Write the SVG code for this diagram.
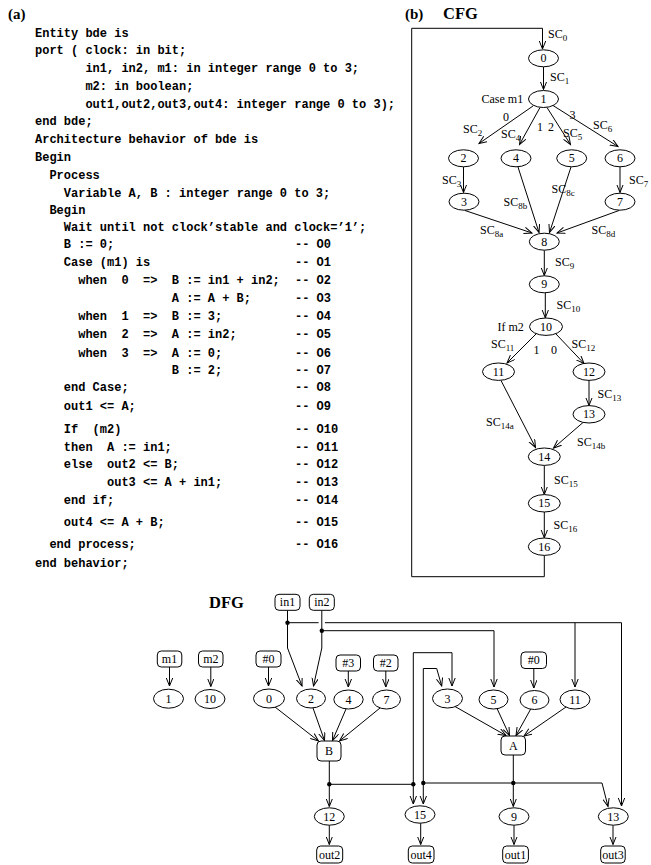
<svg xmlns="http://www.w3.org/2000/svg" width="651" height="865" viewBox="0 0 651 865">
<defs>
<style>
.code{font-family:"Liberation Mono","DejaVu Sans Mono",monospace;font-weight:bold;font-size:12px;fill:#000;white-space:pre}
.ttl{font-family:"Liberation Serif","Times New Roman",serif;font-weight:bold;fill:#000}
.lbl{font-family:"Liberation Serif","Times New Roman",serif;font-size:12px;fill:#000}
.nt{font-family:"Liberation Serif","Times New Roman",serif;font-size:12px;fill:#000;text-anchor:middle}
.sub{font-size:9px}
.nd{fill:#fff;stroke:#000;stroke-width:1}
.ed{fill:none;stroke:#000;stroke-width:1}
.ar{marker-end:url(#arr)}
.dot{fill:#000}
</style>
<marker id="arr" markerUnits="userSpaceOnUse" markerWidth="10" markerHeight="8" refX="8" refY="3.5" orient="auto">
<path d="M0,0.3 L8,3.5 L0,6.7" fill="none" stroke="#000" stroke-width="1"/>
</marker>
</defs>
<rect width="651" height="865" fill="#fff"/>

<g id="code" xml:space="preserve">
<text class="ttl" x="8" y="19" font-size="15">(a)</text>
<text class="code" x="35" y="36.5">Entity bde is</text>
<text class="code" x="35" y="54.3">port ( clock: in bit;</text>
<text class="code" x="85.4" y="72">in1, in2, m1: in integer range 0 to 3;</text>
<text class="code" x="85.4" y="89.8">m2: in boolean;</text>
<text class="code" x="85.4" y="107.6">out1,out2,out3,out4: integer range 0 to 3);</text>
<text class="code" x="35" y="125.4">end bde;</text>
<text class="code" x="35" y="143.2">Architecture behavior of bde is</text>
<text class="code" x="35" y="161">Begin</text>
<text class="code" x="49.4" y="178.8">Process</text>
<text class="code" x="63.8" y="196.5">Variable A, B : integer range 0 to 3;</text>
<text class="code" x="49.4" y="213.5">Begin</text>
<text class="code" x="63.8" y="230.7">Wait until not clock’stable and clock=’1’;</text>
<text class="code" x="63.8" y="248">B := 0;</text>
<text class="code" x="63.8" y="266">Case (m1) is</text>
<text class="code" x="78.2" y="284">when  0  =&gt;  B := in1 + in2;</text>
<text class="code" x="171.8" y="301.7">A := A + B;</text>
<text class="code" x="78.2" y="319.7">when  1  =&gt;  B := 3;</text>
<text class="code" x="78.2" y="338">when  2  =&gt;  A := in2;</text>
<text class="code" x="78.2" y="356.5">when  3  =&gt;  A := 0;</text>
<text class="code" x="171.8" y="374">B := 2;</text>
<text class="code" x="63.8" y="391.3">end Case;</text>
<text class="code" x="63.8" y="409.7">out1 &lt;= A;</text>
<text class="code" x="63.8" y="433.3">If  (m2)</text>
<text class="code" x="63.8" y="450.7">then  A := in1;</text>
<text class="code" x="63.8" y="468.3">else  out2 &lt;= B;</text>
<text class="code" x="107" y="486.3">out3 &lt;= A + in1;</text>
<text class="code" x="63.8" y="504">end if;</text>
<text class="code" x="63.8" y="525.7">out4 &lt;= A + B;</text>
<text class="code" x="49.4" y="548">end process;</text>
<text class="code" x="35" y="567.3">end behavior;</text>
<text class="code" x="295" y="248">-- O0</text>
<text class="code" x="295" y="266">-- O1</text>
<text class="code" x="295" y="284">-- O2</text>
<text class="code" x="295" y="301.7">-- O3</text>
<text class="code" x="295" y="319.7">-- O4</text>
<text class="code" x="295" y="338">-- O5</text>
<text class="code" x="295" y="356.5">-- O6</text>
<text class="code" x="295" y="374">-- O7</text>
<text class="code" x="295" y="391.3">-- O8</text>
<text class="code" x="295" y="409.7">-- O9</text>
<text class="code" x="295" y="433.3">-- O10</text>
<text class="code" x="295" y="450.7">-- O11</text>
<text class="code" x="295" y="468.3">-- O12</text>
<text class="code" x="295" y="486.3">-- O13</text>
<text class="code" x="295" y="504">-- O14</text>
<text class="code" x="295" y="525.7">-- O15</text>
<text class="code" x="295" y="548">-- O16</text>
</g>

<g id="cfg-title">
<text class="ttl" x="405" y="18.5" font-size="15">(b)</text>
<text class="ttl" x="443" y="19.3" font-size="16.5">CFG</text>
</g>

<g id="cfg-edges">
<path class="ed ar" d="M544.3,555.2 V576.7 H411.7 V28.3 H542.5 V49" stroke-width="1.3"/>
<path class="ed ar" d="M543.5,66.8 V89.5"/>
<path class="ed ar" d="M533,106 L479,143.5"/>
<path class="ed ar" d="M540,107.5 L519.5,144.5"/>
<path class="ed ar" d="M547,107.5 L570.5,144.5"/>
<path class="ed ar" d="M553,105.5 L618,146.5"/>
<path class="ed ar" d="M463.5,166.8 V192.5"/>
<path class="ed ar" d="M620,166.8 V192.5"/>
<path class="ed ar" d="M518,167 L539,232.5"/>
<path class="ed ar" d="M571,167 L549.5,232.5"/>
<path class="ed ar" d="M465,210.5 L532,233"/>
<path class="ed ar" d="M619,210.5 L557,233"/>
<path class="ed ar" d="M544.3,250.2 V275.5"/>
<path class="ed ar" d="M545.3,292.8 V317.8"/>
<path class="ed ar" d="M536,334 L507,363"/>
<path class="ed ar" d="M556,334 L584,363.5"/>
<path class="ed ar" d="M501,380.5 L535.5,447.5"/>
<path class="ed ar" d="M589,380.2 V405.5"/>
<path class="ed ar" d="M583,422.5 L553.5,448"/>
<path class="ed ar" d="M544.3,465.2 V494.5"/>
<path class="ed ar" d="M544.3,511.8 V537.8"/>
</g>

<g id="cfg-labels" class="lbl">
<text x="548" y="38">SC<tspan class="sub" dy="3">0</tspan></text>
<text x="550" y="81">SC<tspan class="sub" dy="3">1</tspan></text>
<text x="481.5" y="103.3">Case m1</text>
<text x="503" y="121">0</text>
<text x="537" y="131">1</text>
<text x="548" y="131">2</text>
<text x="569.5" y="118.5">3</text>
<text x="463" y="132.5">SC<tspan class="sub" dy="3">2</tspan></text>
<text x="501" y="138">SC<tspan class="sub" dy="3">4</tspan></text>
<text x="563" y="136.5">SC<tspan class="sub" dy="3">5</tspan></text>
<text x="593" y="128.5">SC<tspan class="sub" dy="3">6</tspan></text>
<text x="442" y="184">SC<tspan class="sub" dy="3">3</tspan></text>
<text x="629" y="184">SC<tspan class="sub" dy="3">7</tspan></text>
<text x="551.5" y="192.5">SC<tspan class="sub" dy="3">8c</tspan></text>
<text x="503.5" y="206">SC<tspan class="sub" dy="3">8b</tspan></text>
<text x="480" y="234">SC<tspan class="sub" dy="3">8a</tspan></text>
<text x="591.5" y="234">SC<tspan class="sub" dy="3">8d</tspan></text>
<text x="555" y="266">SC<tspan class="sub" dy="3">9</tspan></text>
<text x="556.5" y="309">SC<tspan class="sub" dy="3">10</tspan></text>
<text x="497.5" y="331">If m2</text>
<text x="491" y="348">SC<tspan class="sub" dy="3">11</tspan></text>
<text x="533.5" y="354">1</text>
<text x="551" y="354">0</text>
<text x="571.5" y="348">SC<tspan class="sub" dy="3">12</tspan></text>
<text x="597.5" y="397.5">SC<tspan class="sub" dy="3">13</tspan></text>
<text x="486" y="426">SC<tspan class="sub" dy="3">14a</tspan></text>
<text x="577" y="446">SC<tspan class="sub" dy="3">14b</tspan></text>
<text x="554" y="484">SC<tspan class="sub" dy="3">15</tspan></text>
<text x="553.5" y="529">SC<tspan class="sub" dy="3">16</tspan></text>
</g>

<g id="cfg-n0"><ellipse class="nd" cx="543.5" cy="58.3" rx="15" ry="8.5"/><text class="nt" x="543.5" y="62.3">0</text></g>
<g id="cfg-n1"><ellipse class="nd" cx="543.5" cy="99" rx="15" ry="8.5"/><text class="nt" x="543.5" y="103">1</text></g>
<g id="cfg-n2"><ellipse class="nd" cx="463.5" cy="158.3" rx="15" ry="8.5"/><text class="nt" x="463.5" y="162.3">2</text></g>
<g id="cfg-n4"><ellipse class="nd" cx="516" cy="158.3" rx="15" ry="8.5"/><text class="nt" x="516" y="162.3">4</text></g>
<g id="cfg-n5"><ellipse class="nd" cx="571.7" cy="158.3" rx="15" ry="8.5"/><text class="nt" x="571.7" y="162.3">5</text></g>
<g id="cfg-n6"><ellipse class="nd" cx="620" cy="158.3" rx="15" ry="8.5"/><text class="nt" x="620" y="162.3">6</text></g>
<g id="cfg-n3"><ellipse class="nd" cx="464" cy="201.7" rx="15" ry="8.5"/><text class="nt" x="464" y="205.7">3</text></g>
<g id="cfg-n7"><ellipse class="nd" cx="620" cy="201.7" rx="15" ry="8.5"/><text class="nt" x="620" y="205.7">7</text></g>
<g id="cfg-n8"><ellipse class="nd" cx="544.3" cy="241.7" rx="15" ry="8.5"/><text class="nt" x="544.3" y="245.7">8</text></g>
<g id="cfg-n9"><ellipse class="nd" cx="544.3" cy="284.3" rx="15" ry="8.5"/><text class="nt" x="544.3" y="288.3">9</text></g>
<g id="cfg-n10"><ellipse class="nd" cx="546" cy="326.7" rx="16.5" ry="8.7"/><text class="nt" x="546" y="330.7">10</text></g>
<g id="cfg-n11"><ellipse class="nd" cx="498.5" cy="371.7" rx="16" ry="8.7"/><text class="nt" x="498.5" y="375.7">11</text></g>
<g id="cfg-n12"><ellipse class="nd" cx="589" cy="371.7" rx="16" ry="8.7"/><text class="nt" x="589" y="375.7">12</text></g>
<g id="cfg-n13"><ellipse class="nd" cx="589" cy="414.3" rx="16" ry="8.7"/><text class="nt" x="589" y="418.3">13</text></g>
<g id="cfg-n14"><ellipse class="nd" cx="544.3" cy="456.7" rx="16" ry="8.7"/><text class="nt" x="544.3" y="460.7">14</text></g>
<g id="cfg-n15"><ellipse class="nd" cx="544.3" cy="503.3" rx="16" ry="8.7"/><text class="nt" x="544.3" y="507.3">15</text></g>
<g id="cfg-n16"><ellipse class="nd" cx="544.3" cy="546.7" rx="16" ry="8.7"/><text class="nt" x="544.3" y="550.7">16</text></g>

<g id="dfg-title"><text class="ttl" x="209" y="607.7" font-size="16.5">DFG</text></g>

<g id="dfg-edges">
<path class="ed ar" d="M169.5,667 V686"/>
<path class="ed ar" d="M210.8,667 V686.5"/>
<path class="ed ar" d="M268.5,667 V686"/>
<path class="ed ar" d="M348.3,671 V687"/>
<path class="ed ar" d="M385.8,671 V687"/>
<path class="ed ar" d="M533.8,668.5 V688"/>
<path class="ed ar" d="M287.5,610.3 V648 L302,686"/>
<path class="ed ar" d="M321.8,610.3 V648 L313.5,686"/>
<path class="ed" d="M287.5,622.7 H318.6"/>
<path class="ed ar" d="M324.9,622.7 H621.5 V806"/>
<path class="ed ar" d="M575,622.7 V687"/>
<path class="ed ar" d="M321.8,630.7 H494 V687"/>
<path class="ed ar" d="M413.3,784.3 V652.7 H452 V686"/>
<path class="ed ar" d="M423.3,783 V668.5 H436.7 L441.7,686"/>
<path class="ed ar" d="M413.3,784.3 V804"/>
<path class="ed ar" d="M423.3,783 V804"/>
<path class="ed ar" d="M329.3,761 V806.5"/>
<path class="ed" d="M329.3,784.3 H413.3"/>
<path class="ed ar" d="M513.3,755 V806.5"/>
<path class="ed ar" d="M423.3,783 H602 L608,806.5"/>
<path class="ed ar" d="M329.3,825.2 V844.5"/>
<path class="ed ar" d="M420.7,823.2 V844.5"/>
<path class="ed ar" d="M514,825.2 V844.5"/>
<path class="ed ar" d="M613,825.2 V844.5"/>
<path class="ed ar" d="M275,707 L318.5,741"/>
<path class="ed ar" d="M313,708 L324.5,740.5"/>
<path class="ed ar" d="M346,709 L332.5,740.5"/>
<path class="ed ar" d="M380,708 L339.5,741"/>
<path class="ed ar" d="M455,706.5 L506,735.5"/>
<path class="ed ar" d="M497,708.5 L509.5,735.5"/>
<path class="ed ar" d="M531,708.5 L516,735.5"/>
<path class="ed ar" d="M566,707 L524,736"/>
<circle class="dot" cx="287.5" cy="622.7" r="2.2"/>
<circle class="dot" cx="321.8" cy="630.7" r="2.2"/>
<circle class="dot" cx="329.3" cy="784.3" r="2.2"/>
<circle class="dot" cx="413.3" cy="784.3" r="2.2"/>
<circle class="dot" cx="423.3" cy="783" r="2.2"/>
<circle class="dot" cx="513.3" cy="783" r="2.2"/>
</g>

<g id="dfg-in1"><rect class="nd" x="275" y="594.3" width="25" height="16" rx="4"/><text class="nt" x="287.5" y="606.3">in1</text></g>
<g id="dfg-in2"><rect class="nd" x="309.3" y="594.3" width="25" height="16" rx="4"/><text class="nt" x="321.8" y="606.3">in2</text></g>
<g id="dfg-m1"><rect class="nd" x="157.3" y="651" width="24.5" height="16" rx="4"/><text class="nt" x="169.5" y="663">m1</text></g>
<g id="dfg-m2"><rect class="nd" x="198.5" y="651" width="24.5" height="16" rx="4"/><text class="nt" x="210.8" y="663">m2</text></g>
<g id="dfg-c0a"><rect class="nd" x="256" y="651" width="25" height="16" rx="4"/><text class="nt" x="268.5" y="663">#0</text></g>
<g id="dfg-c3"><rect class="nd" x="336" y="655" width="24.5" height="16" rx="4"/><text class="nt" x="348.3" y="667">#3</text></g>
<g id="dfg-c2"><rect class="nd" x="373.5" y="655" width="24.5" height="16" rx="4"/><text class="nt" x="385.8" y="667">#2</text></g>
<g id="dfg-c0b"><rect class="nd" x="521" y="652" width="25.5" height="16.5" rx="4"/><text class="nt" x="533.8" y="664.3">#0</text></g>
<g id="dfg-B"><rect class="nd" x="317" y="741" width="24" height="20" rx="4"/><text class="nt" x="329" y="755">B</text></g>
<g id="dfg-A"><rect class="nd" x="501" y="736" width="24.5" height="19" rx="4"/><text class="nt" x="513.3" y="749.5">A</text></g>
<g id="dfg-out2"><rect class="nd" x="316.7" y="846" width="26" height="17" rx="4"/><text class="nt" x="329.7" y="858.5">out2</text></g>
<g id="dfg-out4"><rect class="nd" x="408.3" y="846" width="25.7" height="17" rx="4"/><text class="nt" x="421.2" y="858.5">out4</text></g>
<g id="dfg-out1"><rect class="nd" x="502.7" y="846" width="25.7" height="17" rx="4"/><text class="nt" x="515.5" y="858.5">out1</text></g>
<g id="dfg-out3"><rect class="nd" x="600.7" y="846" width="24.5" height="17" rx="4"/><text class="nt" x="613" y="858.5">out3</text></g>

<g id="dfg-n1"><ellipse class="nd" cx="168.5" cy="698.7" rx="15" ry="9.5"/><text class="nt" x="168.5" y="702.7">1</text></g>
<g id="dfg-n10"><ellipse class="nd" cx="210" cy="699" rx="15" ry="9.5"/><text class="nt" x="210" y="703">10</text></g>
<g id="dfg-n0"><ellipse class="nd" cx="269" cy="698.5" rx="15.5" ry="9.5"/><text class="nt" x="269" y="702.5">0</text></g>
<g id="dfg-n2"><ellipse class="nd" cx="311" cy="698.5" rx="14.5" ry="9.5"/><text class="nt" x="311" y="702.5">2</text></g>
<g id="dfg-n4"><ellipse class="nd" cx="348.5" cy="699.5" rx="14.7" ry="9.5"/><text class="nt" x="348.5" y="703.5">4</text></g>
<g id="dfg-n7"><ellipse class="nd" cx="386.5" cy="699.5" rx="14" ry="9.5"/><text class="nt" x="386.5" y="703.5">7</text></g>
<g id="dfg-n3"><ellipse class="nd" cx="447.5" cy="698.5" rx="15" ry="9.5"/><text class="nt" x="447.5" y="702.5">3</text></g>
<g id="dfg-n5"><ellipse class="nd" cx="493.5" cy="699.5" rx="14.5" ry="9.5"/><text class="nt" x="493.5" y="703.5">5</text></g>
<g id="dfg-n6"><ellipse class="nd" cx="534.5" cy="700" rx="14.5" ry="9.5"/><text class="nt" x="534.5" y="704">6</text></g>
<g id="dfg-n11"><ellipse class="nd" cx="575" cy="699.5" rx="15" ry="9.5"/><text class="nt" x="575" y="703.5">11</text></g>
<g id="dfg-n12"><ellipse class="nd" cx="329.3" cy="816.5" rx="15" ry="8.7"/><text class="nt" x="329.3" y="820.5">12</text></g>
<g id="dfg-n15"><ellipse class="nd" cx="420" cy="814.5" rx="15" ry="8.7"/><text class="nt" x="420" y="818.5">15</text></g>
<g id="dfg-n9"><ellipse class="nd" cx="514" cy="816.5" rx="15" ry="8.7"/><text class="nt" x="514" y="820.5">9</text></g>
<g id="dfg-n13"><ellipse class="nd" cx="613.3" cy="816.5" rx="15" ry="8.7"/><text class="nt" x="613.3" y="820.5">13</text></g>
</svg>
